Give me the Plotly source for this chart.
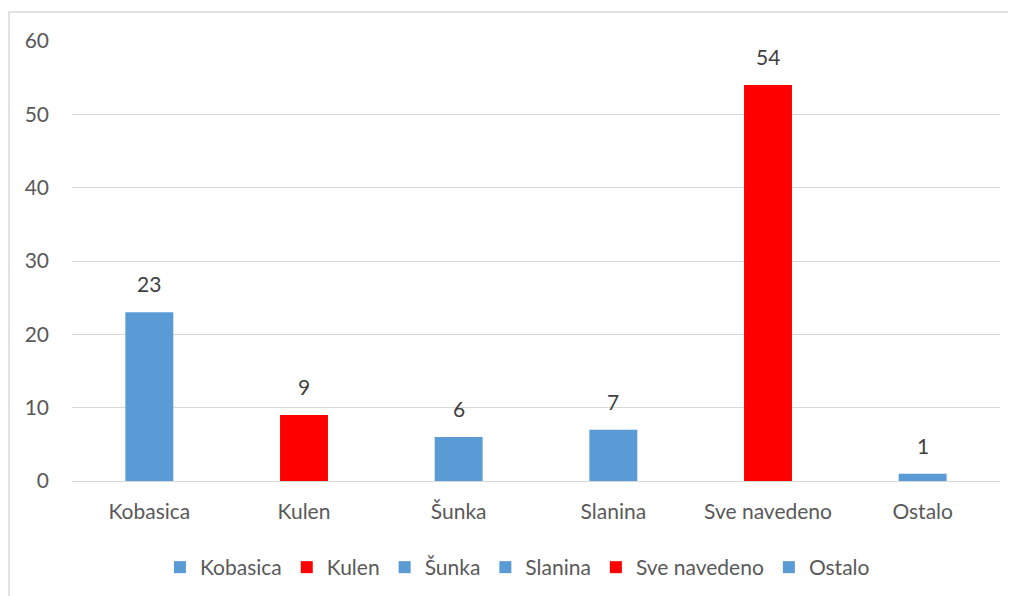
import plotly.graph_objects as go

categories = ["Kobasica", "Kulen", "Šunka", "Slanina", "Sve navedeno", "Ostalo"]
values = [23, 9, 6, 7, 54, 1]
colors = ["#5B9BD5", "#FF0000", "#5B9BD5", "#5B9BD5", "#FF0000", "#5B9BD5"]
y_ticks = [0, 10, 20, 30, 40, 50, 60]

font_family = "Lato, Open Sans, sans-serif"
fs = 21

fig = go.Figure()
for cat, val, col in zip(categories, values, colors):
    fig.add_trace(go.Bar(
        x=[cat], y=[val], name=cat, marker=dict(color=col, line=dict(width=0)),
        width=0.31,
    ))
    # data label above each bar
    fig.add_annotation(x=cat, y=val, text=str(val), showarrow=False,
                       yanchor="bottom", yshift=14,
                       font=dict(size=fs, color="#404040"))

fig.update_layout(
    width=1016, height=596,
    barmode="overlay",
    plot_bgcolor="white", paper_bgcolor="white",
    font=dict(family=font_family, size=fs, color="#595959"),
    margin=dict(l=64, r=24, t=33, b=123),
    xaxis=dict(categoryorder="array", categoryarray=categories, showgrid=False,
               showline=False, ticks="", ticklabelstandoff=16,
               tickfont=dict(size=fs, color="#595959")),
    yaxis=dict(range=[0, 60], tickvals=y_ticks, showgrid=True, gridcolor="#D9D9D9",
               gridwidth=1, zeroline=True, zerolinecolor="#D9D9D9", zerolinewidth=1,
               ticks="", ticklabelstandoff=22, tickfont=dict(size=fs, color="#595959")),
    legend=dict(orientation="h", x=0.48, xanchor="center", y=-0.15, yanchor="top",
                font=dict(size=fs, color="#595959"), itemwidth=30, traceorder="normal"),
    showlegend=True,
)

# chart-area border (only top/left visible in the crop)
fig.add_shape(type="rect", xref="paper", yref="paper",
              x0=-63 / 928, x1=1.2, y0=-0.5, y1=1 + 29 / 440,
              line=dict(color="#D9D9D9", width=1.5), fillcolor="rgba(0,0,0,0)", layer="below")

fig.write_html("out.html")
